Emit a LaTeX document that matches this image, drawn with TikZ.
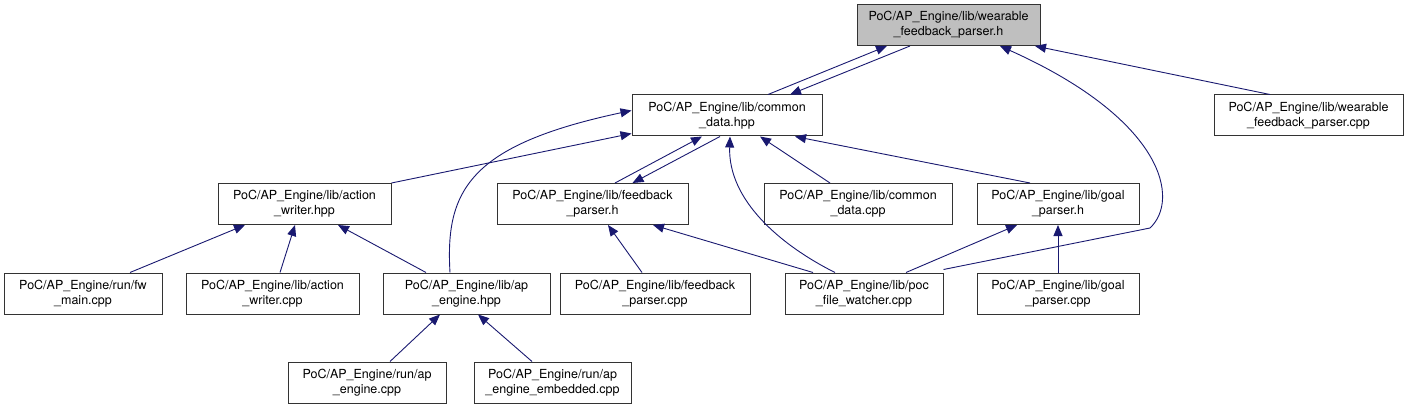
\documentclass[tikz,border=0pt]{standalone}
\usepackage{fontspec}
\setmainfont{TeX Gyre Heros}
\usepackage{xcolor}
\usepackage{tikz}
\usetikzlibrary{arrows.meta,calc}
\definecolor{edgeblue}{RGB}{25,25,112}
\definecolor{headgray}{RGB}{191,191,191}

\begin{document}
\begin{tikzpicture}[x=1pt, y=-1pt,
    filebox/.style={draw=black!80, line width=1pt, fill=white, rectangle, align=center,
      minimum height=41pt, inner sep=2pt, font=\fontsize{12.5}{15}\selectfont},
    inc/.style={draw=edgeblue, line width=0.9pt, -{Triangle[length=11pt, width=9pt]}}]
    \useasboundingbox (0, 0) rectangle (1409, 409);
    % Include-by graph: top = header, each arrow points to the file that is included.
    \node[filebox, fill=headgray, minimum width=183pt] (wfph) at (948.5, 25)
      {PoC/AP\_Engine/lib/wearable\\\_feedback\_parser.h};
    % second row
    \node[filebox, minimum width=190pt] (commonhpp) at (727, 115.5)
      {PoC/AP\_Engine/lib/common\\\_data.hpp};
    \node[filebox, minimum width=189pt] (wfpcpp) at (1308.5, 115.5)
      {PoC/AP\_Engine/lib/wearable\\\_feedback\_parser.cpp};
    % third row
    \node[filebox, minimum width=173pt] (actionhpp) at (304.5, 204)
      {PoC/AP\_Engine/lib/action\\\_writer.hpp};
    \node[filebox, minimum width=191pt] (feedbackh) at (592.5, 204)
      {PoC/AP\_Engine/lib/feedback\\\_parser.h};
    \node[filebox, minimum width=188pt] (commoncpp) at (858, 204)
      {PoC/AP\_Engine/lib/common\\\_data.cpp};
    \node[filebox, minimum width=162pt] (goalh) at (1058, 204)
      {PoC/AP\_Engine/lib/goal\\\_parser.h};
    % fourth row
    \node[filebox, minimum width=158pt] (fwmain) at (83, 293.5)
      {PoC/AP\_Engine/run/fw\\\_main.cpp};
    \node[filebox, minimum width=173pt] (actioncpp) at (272.5, 293.5)
      {PoC/AP\_Engine/lib/action\\\_writer.cpp};
    \node[filebox, minimum width=167pt] (apenginehpp) at (466.5, 293.5)
      {PoC/AP\_Engine/lib/ap\\\_engine.hpp};
    \node[filebox, minimum width=190pt] (feedbackcpp) at (655, 293.5)
      {PoC/AP\_Engine/lib/feedback\\\_parser.cpp};
    \node[filebox, minimum width=158pt] (pocfw) at (864, 293.5)
      {PoC/AP\_Engine/lib/poc\\\_file\_watcher.cpp};
    \node[filebox, minimum width=162pt] (goalcpp) at (1058, 293.5)
      {PoC/AP\_Engine/lib/goal\\\_parser.cpp};
    % bottom row
    \node[filebox, minimum width=158pt] (runapengine) at (367, 382.5)
      {PoC/AP\_Engine/run/ap\\\_engine.cpp};
    \node[filebox, minimum width=157pt] (runapembedded) at (552.5, 382.5)
      {PoC/AP\_Engine/run/ap\\\_engine\_embedded.cpp};
    % Edges into the top header
    \draw[inc] ([xshift=41]commonhpp.north) -- ([xshift=-61.5]wfph.south);
    \draw[inc] ([xshift=-38.5]wfph.south) -- ([xshift=63]commonhpp.north);
    \draw[inc] ([xshift=-38.5]wfpcpp.north) -- ([xshift=86.5]wfph.south);
    \coordinate (pocbend) at (1150, 228);
    \draw[inc] ([yshift=3]pocfw.north east) -- (pocbend)
      .. controls (1180, 200) and (1165, 120) .. ([xshift=51.5]wfph.south);
    % Edges into common_data.hpp
    \draw[inc] (actionhpp.north east) -- ([yshift=3]commonhpp.south west);
    \draw[inc] ([xshift=-16.5]apenginehpp.north)
      .. controls (445, 190) and (470, 145) .. ([yshift=5]commonhpp.west);
    \draw[inc] ([xshift=22.5]feedbackh.north) -- ([xshift=-25]commonhpp.south);
    \draw[inc] ([xshift=-7]commonhpp.south) -- ([xshift=40]feedbackh.north);
    \draw[inc] ([xshift=-29]pocfw.north)
      .. controls (780, 245) and (728, 200) .. ([xshift=3]commonhpp.south);
    \draw[inc] ([xshift=-28]commoncpp.north) -- ([xshift=33]commonhpp.south);
    \draw[inc] ([xshift=-28]goalh.north) -- ([xshift=68]commonhpp.south);
    % Edges into the third row
    \draw[inc] ([xshift=47]fwmain.north) -- ([xshift=-59.5]actionhpp.south);
    \draw[inc] ([xshift=7.5]actioncpp.north) -- ([xshift=-9.5]actionhpp.south);
    \draw[inc] ([xshift=-40.5]apenginehpp.north) -- ([xshift=33.5]actionhpp.south);
    \draw[inc] ([xshift=-13]feedbackcpp.north) -- ([xshift=15.5]feedbackh.south);
    \draw[inc] ([xshift=-51]pocfw.north) -- ([xshift=60.5]feedbackh.south);
    \draw[inc] ([xshift=42]pocfw.north) -- ([xshift=-41]goalh.south);
    \draw[inc] (goalcpp.north) -- (goalh.south);
    % Edges into ap_engine.hpp
    \draw[inc] ([xshift=23]runapengine.north) -- ([xshift=-26.5]apenginehpp.south);
    \draw[inc] ([xshift=-20.5]runapembedded.north) -- ([xshift=11.5]apenginehpp.south);
  \end{tikzpicture}
\end{document}
